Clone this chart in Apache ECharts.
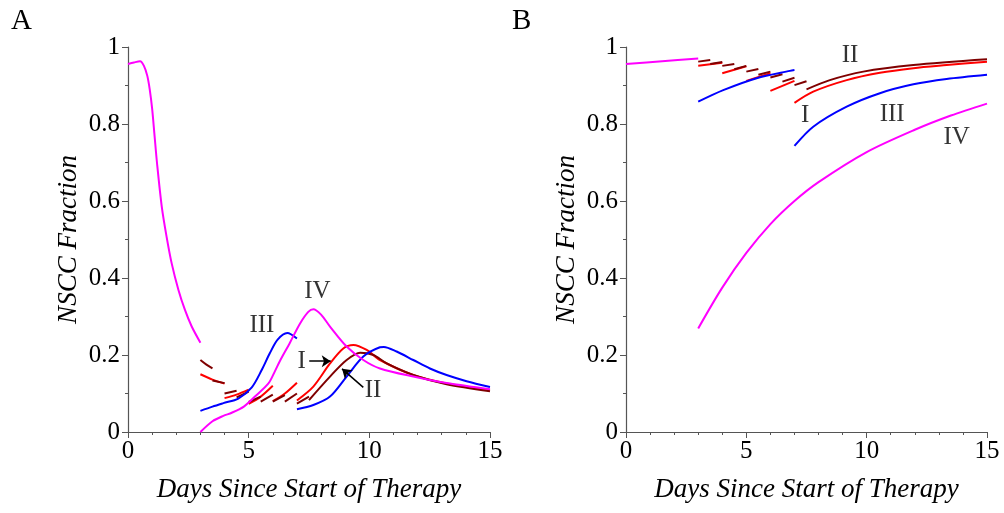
<!DOCTYPE html>
<html><head><meta charset="utf-8">
<script src="https://cdn.jsdelivr.net/npm/echarts@6/dist/echarts.min.js"></script>
<style>html,body{margin:0;padding:0;background:#fff}#c{width:1004px;height:513px}</style>
</head><body><div id="c"></div>
<script>
// ---------- Panel A data (x = days, y = NSCC fraction) ----------
const A_common = [[0,0.956],[0.25,0.960],[0.5,0.963],[0.66,0.951],[0.8,0.925],[0.9,0.89],[1.0,0.84],[1.1,0.77],[1.2,0.7],[1.4,0.585],[1.6,0.507],[1.81,0.438],[2.09,0.369],[2.36,0.317],[2.64,0.274],[3.0,0.232]];
const A_IV = [[[3.0,0.0],[3.5,0.028],[3.95,0.042],[4.3,0.05],[4.8,0.066],[5.26,0.092],[5.82,0.126],[6.09,0.158],[6.3,0.185],[6.71,0.232],[7.13,0.282],[7.47,0.312],[7.68,0.319],[8.0,0.305],[8.37,0.274],[9.06,0.222],[9.75,0.187],[10.44,0.165],[11.82,0.144],[13.2,0.127],[15,0.111]]];
const A_III = [
  [[3.0,0.055],[3.5,0.066],[3.95,0.075],[4.57,0.087],[5.13,0.116],[5.54,0.161],[5.88,0.205],[6.2,0.24],[6.6,0.257],[7.0,0.243]],
  [[7.0,0.059],[7.68,0.07],[8.37,0.092],[9.06,0.144],[9.75,0.196],[10.44,0.22],[10.6,0.221],[11.13,0.209],[11.82,0.187],[12.51,0.165],[13.2,0.148],[14.03,0.132],[15,0.117]]
];
const A_I = [
  [[3,0.150],[3.5,0.136],[4,0.126]],
  [[4,0.088],[4.5,0.097],[5,0.11]],
  [[5,0.073],[5.5,0.092],[6,0.12]],
  [[6,0.08],[6.5,0.1],[7,0.128]],
  [[7,0.082],[7.68,0.118],[8.37,0.178],[8.92,0.217],[9.34,0.226],[9.89,0.213],[10.44,0.187],[11.82,0.148],[13.2,0.126],[15,0.109]]
];
const A_II = [
  [[3,0.187],[3.25,0.175],[3.5,0.165]],
  [[3.5,0.134],[4,0.127]],
  [[4,0.1],[4.5,0.107]],
  [[4.5,0.09],[5,0.105]],
  [[5,0.078],[5.5,0.092]],
  [[5.5,0.079],[6,0.097]],
  [[6,0.079],[6.5,0.096]],
  [[6.5,0.079],[7,0.1]],
  [[7,0.074],[7.5,0.092]],
  [[7.5,0.083],[8.37,0.144],[9.06,0.187],[9.62,0.206],[10.17,0.2],[10.72,0.178],[11.82,0.148],[13.2,0.124],[15,0.106]]
];
const A_labels = [["III",5.55,0.278],["IV",7.85,0.364],["I",7.2,0.183],["II",10.15,0.109]];
const A_arrows = [[[7.51,0.184],[8.4,0.184]],[[9.75,0.116],[8.87,0.164]]];

// ---------- Panel B data ----------
const B_common = [[0,0.956],[1.5,0.963],[3,0.970]];
const B_IV = [[[3,0.269],[4,0.375],[5,0.465],[6,0.54],[7,0.6],[8,0.649],[10,0.727],[12,0.785],[13.5,0.822],[15,0.853]]];
const B_III = [
  [[3,0.858],[4.04,0.888],[5.43,0.919],[6.81,0.938],[7,0.94]],
  [[7,0.743],[7.78,0.793],[9.17,0.845],[10.55,0.88],[11.94,0.903],[13.32,0.917],[15,0.928]]
];
const B_I = [
  [[3,0.951],[4,0.959]],
  [[4,0.932],[5,0.95]],
  [[5,0.912],[6,0.932]],
  [[6,0.886],[7,0.912]],
  [[7,0.855],[7.78,0.884],[9.17,0.914],[10.55,0.933],[11.94,0.945],[13.32,0.953],[15,0.962]]
];
const B_II = [
  [[3,0.962],[3.5,0.966]],
  [[3.5,0.956],[4,0.961]],
  [[4,0.951],[4.5,0.956]],
  [[4.5,0.942],[5,0.951]],
  [[5,0.936],[5.5,0.943]],
  [[5.5,0.928],[6,0.936]],
  [[6,0.921],[6.5,0.929]],
  [[6.5,0.91],[7,0.92]],
  [[7,0.901],[7.5,0.911]],
  [[7.5,0.89],[8.47,0.914],[9.86,0.936],[11.94,0.953],[15,0.968]]
];
const B_labels = [["II",9.31,0.979],["I",7.44,0.823],["III",11.06,0.826],["IV",13.74,0.765]];

const xTicks = [0,5,10,15];
const yTicks = [0,0.2,0.4,0.6,0.8,1];
const xName = "Days Since Start of Therapy";
const yName = "NSCC Fraction";
const panelNames = ["A","B"];

const COL = {I:'#ff0000', II:'#7f0000', III:'#0000ff', IV:'#ff00ff'};
const FONT = "'Liberation Serif', 'Times New Roman', 'DejaVu Serif', serif";

function segSeries(segs, color, gi){
  return segs.map(s => ({type:'line', xAxisIndex:gi, yAxisIndex:gi, data:s, smooth:0.3,
    showSymbol:false, symbol:'none',
    lineStyle:{color:color, width:2}, silent:true, animation:false, z:3}));
}
function labelSeries(labels, gi){
  return {type:'scatter', xAxisIndex:gi, yAxisIndex:gi, symbolSize:0, silent:true, animation:false, z:5,
    data: labels.map(l => ({name:l[0], value:[l[1],l[2]]})),
    label:{show:true, position:'inside', formatter:'{b}', color:'#000', fontFamily:FONT, fontSize:25}};
}
function arrowSeries(arrows, gi){
  return {type:'lines', coordinateSystem:'cartesian2d', xAxisIndex:gi, yAxisIndex:gi, silent:true, animation:false, z:5,
    symbol:['none','arrow'], symbolSize:9,
    lineStyle:{color:'#000', width:1.5, opacity:1},
    data: arrows.map(a => ({coords:a}))};
}
function xAxis(gi){
  return {type:'value', gridIndex:gi, min:0, max:15, interval:5,
    name:xName, nameLocation:'middle', nameGap:44,
    nameTextStyle:{fontFamily:FONT, fontStyle:'italic', fontSize:27, color:'#000'},
    axisLine:{show:true, onZero:false, lineStyle:{color:'#555', width:1.2}},
    axisTick:{show:true, length:6, lineStyle:{color:'#555'}},
    minorTick:{show:true, splitNumber:5, length:3, lineStyle:{color:'#555'}},
    splitLine:{show:false},
    axisLabel:{fontFamily:FONT, fontSize:25, color:'#000', margin:7,
      formatter: v => xTicks.includes(v) ? String(v) : ''}};
}
function yAxis(gi){
  return {type:'value', gridIndex:gi, min:0, max:1, interval:0.2,
    name:yName, nameLocation:'middle', nameGap:46,
    nameTextStyle:{fontFamily:FONT, fontStyle:'italic', fontSize:27, color:'#000'},
    axisLine:{show:true, onZero:false, lineStyle:{color:'#555', width:1.2}},
    axisTick:{show:true, length:6, lineStyle:{color:'#555'}},
    minorTick:{show:true, splitNumber:2, length:3, lineStyle:{color:'#555'}},
    splitLine:{show:false},
    axisLabel:{fontFamily:FONT, fontSize:25, color:'#000', margin:8,
      formatter: v => { const t = yTicks.find(k => Math.abs(k-v)<1e-9); return t===undefined ? '' : String(t); }}};
}

const series = [].concat(
  segSeries(A_I, COL.I, 0), segSeries(A_II, COL.II, 0), segSeries(A_III, COL.III, 0), segSeries(A_IV, COL.IV, 0),
  segSeries([A_common], COL.IV, 0),
  [labelSeries(A_labels, 0), arrowSeries(A_arrows, 0)],
  segSeries(B_I, COL.I, 1), segSeries(B_II, COL.II, 1), segSeries(B_III, COL.III, 1), segSeries(B_IV, COL.IV, 1),
  segSeries([B_common], COL.IV, 1),
  [labelSeries(B_labels, 1)]
);

const chart = echarts.init(document.getElementById('c'), null, {renderer:'canvas'});
chart.setOption({
  animation:false,
  backgroundColor:'#fff',
  title:[
    {text:panelNames[0], left:6, top:2, textStyle:{fontFamily:FONT, fontSize:29, fontWeight:'normal', color:'#000'}},
    {text:panelNames[1], left:507, top:2, textStyle:{fontFamily:FONT, fontSize:29, fontWeight:'normal', color:'#000'}}
  ],
  grid:[
    {left:128, top:47, width:362, height:385},
    {left:626, top:47, width:361, height:385}
  ],
  xAxis:[xAxis(0), xAxis(1)],
  yAxis:[yAxis(0), yAxis(1)],
  series: series
});
</script></body></html>
